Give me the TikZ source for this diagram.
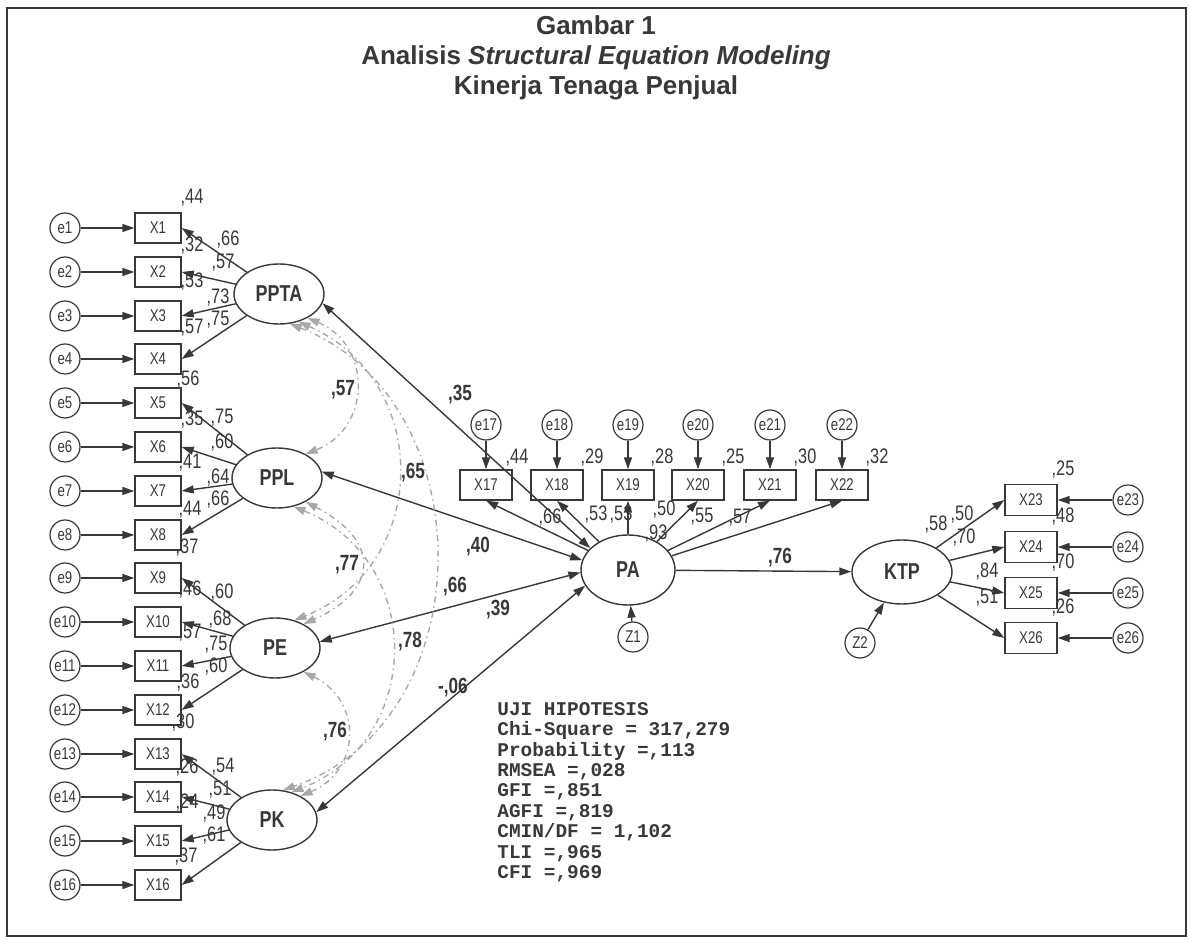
\documentclass[tikz,border=0pt]{standalone}
\usepackage{fontspec}
\setmainfont{Liberation Sans}
\newfontfamily\sempit[FakeStretch=0.78]{Liberation Sans}
\newfontfamily\ketik{Liberation Mono}
\usetikzlibrary{arrows.meta,shapes.geometric}
\definecolor{tinta}{HTML}{383838}
\definecolor{abu}{HTML}{A8A8A8}
\begin{document}
\begin{tikzpicture}[x=0.5pt, y=-0.5pt, >={Triangle[length=6pt,width=4pt]}]
\tikzset{
  ind/.style={draw=tinta, line width=0.7pt, minimum width=23pt, minimum height=15pt, inner sep=0pt, text=tinta, font=\sempit\fontsize{8.5}{9}\selectfont},
  indb/.style={ind, minimum width=26pt},
  err/.style={circle, draw=tinta, line width=0.6pt, minimum size=15pt, inner sep=0pt, text=tinta, font=\sempit\fontsize{8.5}{9}\selectfont},
  lat/.style={ellipse, draw=tinta, line width=0.7pt, minimum width=45pt, minimum height=30pt, inner sep=0pt, text=tinta, font=\sempit\fontsize{11.5}{12}\bfseries\selectfont},
  num/.style={inner sep=0pt, text=tinta, font=\sempit\fontsize{10.5}{11}\selectfont},
  koef/.style={inner sep=0pt, text=tinta, font=\sempit\fontsize{11}{12}\bfseries\selectfont},
  panah/.style={->, draw=tinta, line width=0.7pt},
  jalur/.style={<->, draw=tinta, line width=0.7pt},
  kov/.style={<->, draw=abu, line width=0.7pt, dash dot}
}
\useasboundingbox (0,0) rectangle (1190,940);
\draw[line width=1.2pt, tinta] (7,8) rectangle (1186,936);
% --- 1. Judul ---
\node[text=tinta, align=center, font=\fontsize{13}{15}\bfseries\selectfont] (judul) at (596,58)
  {Gambar 1\\Analisis \textit{Structural Equation Modeling}\\Kinerja Tenaga Penjual};
% --- 2. Variabel laten ---
\node[lat] (PPTA) at (279,294) {PPTA};
\node[lat] (PPL) at (277,478) {PPL};
\node[lat] (PE) at (275,648) {PE};
\node[lat] (PK) at (272,820) {PK};
\node[lat, minimum width=47pt, minimum height=35pt] (PA) at (628,570) {PA};
\node[lat, minimum width=50pt, minimum height=32pt] (KTP) at (902,572) {KTP};
\node[err] (Z1) at (633,637) {Z1};
\node[err] (Z2) at (860,643) {Z2};
% --- 3. Indikator kiri (X1 - X16) ---
\node[ind] (X1) at (158,228) {X1}; \node[err] (e1) at (65,228) {e1}; \draw[panah] (e1) -- (X1);
\node[ind] (X2) at (158,272) {X2}; \node[err] (e2) at (65,272) {e2}; \draw[panah] (e2) -- (X2);
\node[ind] (X3) at (158,316) {X3}; \node[err] (e3) at (65,316) {e3}; \draw[panah] (e3) -- (X3);
\node[ind] (X4) at (158,359) {X4}; \node[err] (e4) at (65,359) {e4}; \draw[panah] (e4) -- (X4);
\node[ind] (X5) at (158,403) {X5}; \node[err] (e5) at (65,403) {e5}; \draw[panah] (e5) -- (X5);
\node[ind] (X6) at (158,447) {X6}; \node[err] (e6) at (65,447) {e6}; \draw[panah] (e6) -- (X6);
\node[ind] (X7) at (158,491) {X7}; \node[err] (e7) at (65,491) {e7}; \draw[panah] (e7) -- (X7);
\node[ind] (X8) at (158,535) {X8}; \node[err] (e8) at (65,535) {e8}; \draw[panah] (e8) -- (X8);
\node[ind] (X9) at (158,578) {X9}; \node[err] (e9) at (65,578) {e9}; \draw[panah] (e9) -- (X9);
\node[ind] (X10) at (158,622) {X10}; \node[err] (e10) at (65,622) {e10}; \draw[panah] (e10) -- (X10);
\node[ind] (X11) at (158,666) {X11}; \node[err] (e11) at (65,666) {e11}; \draw[panah] (e11) -- (X11);
\node[ind] (X12) at (158,710) {X12}; \node[err] (e12) at (65,710) {e12}; \draw[panah] (e12) -- (X12);
\node[ind] (X13) at (158,754) {X13}; \node[err] (e13) at (65,754) {e13}; \draw[panah] (e13) -- (X13);
\node[ind] (X14) at (158,797) {X14}; \node[err] (e14) at (65,797) {e14}; \draw[panah] (e14) -- (X14);
\node[ind] (X15) at (158,841) {X15}; \node[err] (e15) at (65,841) {e15}; \draw[panah] (e15) -- (X15);
\node[ind] (X16) at (158,885) {X16}; \node[err] (e16) at (65,885) {e16}; \draw[panah] (e16) -- (X16);
\draw[panah] (PPTA) -- (X1.east); \draw[panah] (PPTA) -- (X2.east);
\draw[panah] (PPTA) -- (X3.east); \draw[panah] (PPTA) -- (X4.east);
\draw[panah] (PPL) -- (X5.east); \draw[panah] (PPL) -- (X6.east);
\draw[panah] (PPL) -- (X7.east); \draw[panah] (PPL) -- (X8.east);
\draw[panah] (PE) -- (X9.east); \draw[panah] (PE) -- (X10.east);
\draw[panah] (PE) -- (X11.east); \draw[panah] (PE) -- (X12.east);
\draw[panah] (PK) -- (X13.east); \draw[panah] (PK) -- (X14.east);
\draw[panah] (PK) -- (X15.east); \draw[panah] (PK) -- (X16.east);
% R2 dan loading kiri
\node[num] (r1) at (192,198) {,44}; \node[num] (l1) at (228,240) {,66};
\node[num] (r2) at (192,246) {,32}; \node[num] (l2) at (223,263) {,57};
\node[num] (r3) at (192,282) {,53}; \node[num] (l3) at (218,298) {,73};
\node[num] (r4) at (192,328) {,57}; \node[num] (l4) at (218,320) {,75};
\node[num] (r5) at (188,380) {,56}; \node[num] (l5) at (222,418) {,75};
\node[num] (r6) at (192,420) {,35}; \node[num] (l6) at (222,443) {,60};
\node[num] (r7) at (190,463) {,41}; \node[num] (l7) at (218,478) {,64};
\node[num] (r8) at (190,510) {,44}; \node[num] (l8) at (218,500) {,66};
\node[num] (r9) at (187,548) {,37}; \node[num] (l9) at (222,593) {,60};
\node[num] (r10) at (190,590) {,46}; \node[num] (l10) at (220,620) {,68};
\node[num] (r11) at (190,633) {,57}; \node[num] (l11) at (216,645) {,75};
\node[num] (r12) at (188,683) {,36}; \node[num] (l12) at (216,667) {,60};
\node[num] (r13) at (183,723) {,30}; \node[num] (l13) at (223,767) {,54};
\node[num] (r14) at (187,768) {,26}; \node[num] (l14) at (220,790) {,51};
\node[num] (r15) at (187,803) {,24}; \node[num] (l15) at (214,814) {,49};
\node[num] (r16) at (186,857) {,37}; \node[num] (l16) at (214,836) {,61};
% --- 4. Indikator PA (X17 - X22) ---
\node[indb] (X17) at (486,485) {X17}; \node[err] (e17) at (486,425) {e17}; \draw[panah] (e17) -- (X17);
\node[indb] (X18) at (557,485) {X18}; \node[err] (e18) at (557,425) {e18}; \draw[panah] (e18) -- (X18);
\node[indb] (X19) at (628,485) {X19}; \node[err] (e19) at (628,425) {e19}; \draw[panah] (e19) -- (X19);
\node[indb] (X20) at (698,485) {X20}; \node[err] (e20) at (698,425) {e20}; \draw[panah] (e20) -- (X20);
\node[indb] (X21) at (770,485) {X21}; \node[err] (e21) at (770,425) {e21}; \draw[panah] (e21) -- (X21);
\node[indb] (X22) at (842,485) {X22}; \node[err] (e22) at (842,425) {e22}; \draw[panah] (e22) -- (X22);
\draw[panah] (PA) -- (X17.south); \draw[panah] (PA) -- (X18.south);
\draw[panah] (PA) -- (X19.south); \draw[panah] (PA) -- (X20.south);
\draw[panah] (PA) -- (X21.south); \draw[panah] (PA) -- (X22.south);
\node[num] (r17) at (517,458) {,44}; \node[num] (r18) at (592,458) {,29};
\node[num] (r19) at (662,458) {,28}; \node[num] (r20) at (733,458) {,25};
\node[num] (r21) at (805,458) {,30}; \node[num] (r22) at (877,458) {,32};
\node[num] (l17) at (550,518) {,66}; \node[num] (l18) at (596,515) {,53};
\node[num] (l19) at (621,515) {,53}; \node[num] (l20) at (664,510) {,50};
\node[num] (rPA) at (656,534) {,93};
\node[num] (l21) at (702,517) {,55}; \node[num] (l22) at (740,518) {,57};
% --- 5. Indikator KTP (X23 - X26) ---
\node[indb, minimum height=15.5pt] (X23) at (1031,500) {X23}; \node[err] (e23) at (1128,500) {e23}; \draw[panah] (e23) -- (X23);
\node[indb, minimum height=15.5pt] (X24) at (1031,547) {X24}; \node[err] (e24) at (1128,547) {e24}; \draw[panah] (e24) -- (X24);
\node[indb, minimum height=15.5pt] (X25) at (1031,593) {X25}; \node[err] (e25) at (1128,593) {e25}; \draw[panah] (e25) -- (X25);
\node[indb, minimum height=15.5pt] (X26) at (1031,638) {X26}; \node[err] (e26) at (1128,638) {e26}; \draw[panah] (e26) -- (X26);
\draw[panah] (KTP) -- (X23.west); \draw[panah] (KTP) -- (X24.west);
\draw[panah] (KTP) -- (X25.west); \draw[panah] (KTP) -- (X26.west);
\node[num] (r23) at (1063,470) {,25}; \node[num] (r24) at (1063,517) {,48};
\node[num] (r25) at (1063,563) {,70}; \node[num] (r26) at (1063,608) {,26};
\node[num] (l23) at (962,515) {,50}; \node[num] (l24) at (964,538) {,70};
\node[num] (l25) at (987,572) {,84}; \node[num] (l26) at (987,598) {,51};
\node[num] (rKTP) at (936,525) {,58};
% --- 6. Jalur struktural ---
\draw[jalur] (PPTA.-12) -- (PA.150);
\draw[jalur] (PPL.8) -- (PA.168);
\draw[jalur] (PE.8) -- (PA.183);
\draw[jalur] (PK.10) -- (PA.200);
\draw[panah] (PA) -- (KTP);
\draw[panah] (Z1) -- (PA);
\draw[panah] (Z2) -- (KTP);
\node[koef] (k1) at (460,395) {,35};
\node[koef] (k2) at (478,547) {,40};
\node[koef] (k3) at (498,610) {,39};
\node[koef] (k4) at (453,688) {-,06};
\node[koef] (k5) at (780,558) {,76};
% --- 7. Kovarians antar laten eksogen ---
\draw[kov] (PPTA.-40) .. controls (372,345) and (372,428) .. (PPL.40);
\draw[kov] (PPTA.-55) .. controls (432,380) and (432,565) .. (PE.55);
\draw[kov] (PPTA.-70) .. controls (485,400) and (485,720) .. (PK.70);
\draw[kov] (PPL.-40) .. controls (380,540) and (380,590) .. (PE.40);
\draw[kov] (PPL.-60) .. controls (425,560) and (425,740) .. (PK.55);
\draw[kov] (PE.-40) .. controls (362,700) and (362,770) .. (PK.40);
\node[koef] (c1) at (343,390) {,57};
\node[koef] (c2) at (413,473) {,65};
\node[koef] (c3) at (455,587) {,66};
\node[koef] (c4) at (347,565) {,77};
\node[koef] (c5) at (410,642) {,78};
\node[koef] (c6) at (335,732) {,76};
% --- 8. Uji hipotesis ---
\node[anchor=north west, align=left, inner sep=0pt, text=tinta, font=\ketik\fontsize{9.7}{10.2}\bfseries\selectfont] (uji) at (497,702)
  {UJI HIPOTESIS\\Chi-Square = 317,279\\Probability =,113\\RMSEA =,028\\GFI =,851\\AGFI =,819\\CMIN/DF = 1,102\\TLI =,965\\CFI =,969};
\end{tikzpicture}
\end{document}
